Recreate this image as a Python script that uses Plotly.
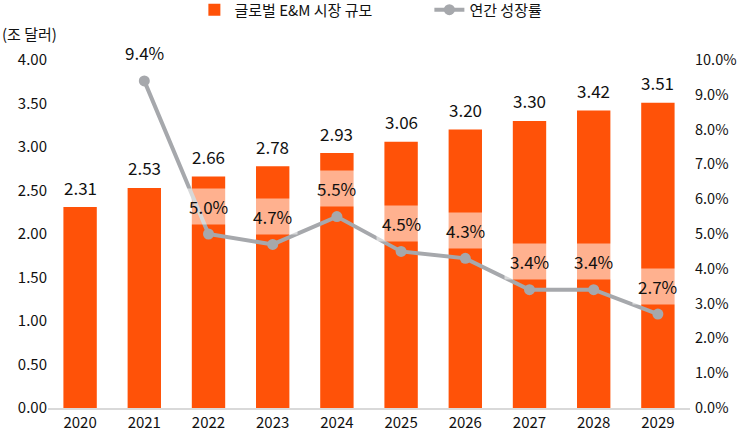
import plotly.graph_objects as go

# 데이터
years = [2020, 2021, 2022, 2023, 2024, 2025, 2026, 2027, 2028, 2029]
market_size = [2.31, 2.53, 2.66, 2.78, 2.93, 3.06, 3.20, 3.30, 3.42, 3.51]
growth_years = [2021, 2022, 2023, 2024, 2025, 2026, 2027, 2028, 2029]
growth_rate = [9.4, 5.0, 4.7, 5.5, 4.5, 4.3, 3.4, 3.4, 2.7]

FONT = 'Noto Sans CJK KR'
BAR_COLOR = '#FF5208'
LINE_COLOR = '#A6A8AC'

fig = go.Figure()

fig.add_trace(go.Bar(
    x=years, y=market_size, name='글로벌 E&M 시장 규모',
    marker=dict(color=BAR_COLOR, line=dict(width=0)),
    width=0.52,
))

fig.add_trace(go.Scatter(
    x=growth_years, y=growth_rate, name='연간 성장률', yaxis='y2',
    mode='lines+markers',
    line=dict(color=LINE_COLOR, width=4),
    marker=dict(color=LINE_COLOR, size=11),
))

# 막대 값 라벨
for yr, v in zip(years, market_size):
    fig.add_annotation(
        x=yr, y=v, xref='x', yref='y', yshift=20,
        text=f'{v:.2f}', showarrow=False,
        font=dict(size=17, color='#111111', family=FONT),
    )

# 성장률 라벨 (반투명 흰 배경)
for yr, g in zip(growth_years, growth_rate):
    fig.add_annotation(
        x=yr, y=g, xref='x', yref='y2', yshift=28,
        text=f'{g:.1f}%', showarrow=False,
        font=dict(size=17, color='#111111', family=FONT),
        bgcolor='rgba(255,255,255,0.55)', borderpad=5,
    )

fig.add_annotation(
    x=0, y=1.0, xref='paper', yref='paper', xshift=-48, yshift=27,
    xanchor='left', yanchor='middle', text='(조 달러)', showarrow=False,
    font=dict(size=15, color='#111111', family=FONT),
)

fig.update_layout(
    width=740, height=433,
    margin=dict(l=48, r=50, t=60, b=25, autoexpand=False),
    plot_bgcolor='white', paper_bgcolor='white',
    font=dict(family=FONT, size=15, color='#111111'),
    showlegend=True,
    legend=dict(orientation='h', x=0.228, xanchor='left', yref='container',
                y=0.977, yanchor='middle', font=dict(size=15), traceorder='normal',
                entrywidth=190),
    xaxis=dict(range=[2019.5, 2029.5], dtick=1, tickformat='d', showgrid=False,
               showline=True, linecolor='#D9D9D9', linewidth=1.5,
               ticks='', tickfont=dict(size=15)),
    yaxis=dict(range=[0, 4], dtick=0.5, tickformat='.2f', showgrid=False,
               zeroline=False, ticks='', tickfont=dict(size=15)),
    yaxis2=dict(range=[0, 10], dtick=1, tickformat='.1f', ticksuffix='%',
                overlaying='y', side='right', showgrid=False, zeroline=False,
                ticks='', tickfont=dict(size=14.5), ticklabelstandoff=4),
)

# 페이지 기본 여백 제거, 툴바 숨김
fig.write_html('out.html', config={'displayModeBar': False},
               post_script="document.body.style.margin='0';")
